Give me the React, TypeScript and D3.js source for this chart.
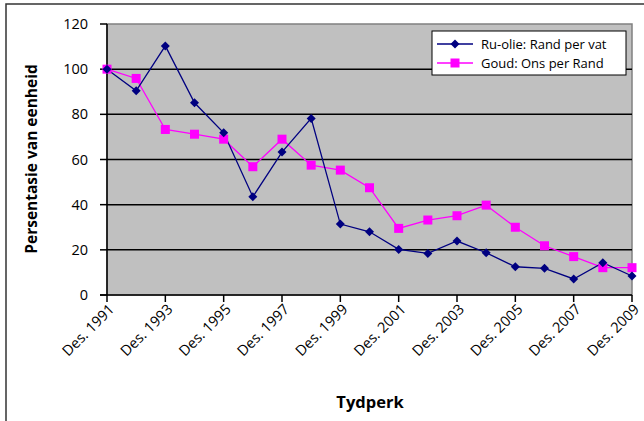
import React from "react";
import * as d3 from "d3";

const years = d3.range(1991, 2010);
const oilValues = [100, 90.4, 110.3, 85.1, 71.8, 43.5, 63.3, 78.2, 31.4, 28, 20.2, 18.4, 23.9, 18.7, 12.5, 11.8, 7.1, 14.3, 8.4];
const goldValues = [100, 95.9, 73.3, 71.2, 69, 56.8, 69, 57.5, 55.3, 47.5, 29.5, 33.2, 35.1, 39.8, 30, 21.8, 17, 12.1, 12.1];
const yTicks = [0, 20, 40, 60, 80, 100, 120];
const labelYears = [1991, 1993, 1995, 1997, 1999, 2001, 2003, 2005, 2007, 2009];
const seriesNames = ["Ru-olie: Rand per vat", "Goud: Ons per Rand"];

const W = 644, H = 421;
const left = 107, right = 632, top = 24, bottom = 295;
const FONT = "'Open Sans', 'Noto Sans', sans-serif";

export default function App() {
  const x = d3.scaleLinear().domain([1991, 2009]).range([left, right]);
  const y = d3.scaleLinear().domain([0, 120]).range([bottom, top]);
  const line = d3.line<number>().x((_, i) => x(years[i])).y((d) => y(d));

  const diamond = (cx: number, cy: number, r = 4.5) =>
    `M${cx},${cy - r}L${cx + r},${cy}L${cx},${cy + r}L${cx - r},${cy}Z`;

  const oilColor = "#000080";
  const goldColor = "#FF00FF";

  return (
    <svg width={W} height={H} style={{ position: "absolute", left: 0, top: 0 }}>
      <rect x={0} y={0} width={W} height={H} fill="#fff" />
      <rect x={6} y={4} width={W + 10} height={H + 10} fill="#fff" stroke="#333" strokeWidth={1.5} />
      {/* plot area */}
      <rect x={left} y={top} width={right - left} height={bottom - top} fill="#C0C0C0" stroke="#808080" strokeWidth={1.5} />
      {yTicks.filter((t) => t > 0 && t < 120).map((t) => (
        <line key={t} x1={left} x2={right} y1={y(t)} y2={y(t)} stroke="#000" strokeWidth={1.5} />
      ))}
      {/* axes */}
      <line x1={left} x2={left} y1={top} y2={bottom} stroke="#000" strokeWidth={1.5} />
      <line x1={left - 7} x2={right} y1={bottom} y2={bottom} stroke="#000" strokeWidth={1.5} />
      {yTicks.map((t) => (
        <g key={t}>
          <line x1={left - 7} x2={left} y1={y(t)} y2={y(t)} stroke="#000" strokeWidth={1.5} />
          <text x={88} y={y(t)} dy="0.35em" textAnchor="end" fontFamily={FONT} fontSize={14.5} fill="#000">{t}</text>
        </g>
      ))}
      {labelYears.map((yr) => (
        <g key={yr}>
          <line x1={x(yr)} x2={x(yr)} y1={bottom} y2={bottom + 7} stroke="#000" strokeWidth={1.5} />
          <text
            transform={`translate(${x(yr) + 1},${bottom + 8}) rotate(-45)`}
            textAnchor="end"
            dy="0.7em"
            fontFamily={FONT}
            fontSize={14.5}
            fill="#000"
          >
            {`Des. ${yr}`}
          </text>
        </g>
      ))}
      {/* series */}
      <path d={line(goldValues) || ""} fill="none" stroke={goldColor} strokeWidth={1.3} />
      <path d={line(oilValues) || ""} fill="none" stroke={oilColor} strokeWidth={1.3} />
      {goldValues.map((v, i) => (
        <rect key={i} x={x(years[i]) - 4.5} y={y(v) - 4.5} width={9} height={9} fill={goldColor} />
      ))}
      {oilValues.map((v, i) => (
        <path key={i} d={diamond(x(years[i]), y(v))} fill={oilColor} />
      ))}
      {/* legend */}
      <rect x={432} y={31} width={194} height={44} fill="#fff" stroke="#000" strokeWidth={1} />
      <line x1={437} x2={473} y1={44} y2={44} stroke={oilColor} strokeWidth={1.5} />
      <path d={diamond(455, 44)} fill={oilColor} />
      <text x={481} y={44} dy="0.35em" fontFamily={FONT} fontSize={13} fill="#000">{seriesNames[0]}</text>
      <line x1={437} x2={473} y1={63} y2={63} stroke={goldColor} strokeWidth={1.5} />
      <rect x={450.5} y={58.5} width={9} height={9} fill={goldColor} />
      <text x={481} y={63} dy="0.35em" fontFamily={FONT} fontSize={13} fill="#000">{seriesNames[1]}</text>
      {/* titles */}
      <text x={370} y={408} textAnchor="middle" fontFamily={FONT} fontWeight="bold" fontSize={16.5} fill="#000">Tydperk</text>
      <text transform={`translate(37,159) rotate(-90)`} textAnchor="middle" fontFamily={FONT} fontWeight="bold" fontSize={15.5} fill="#000">Persentasie van eenheid</text>
    </svg>
  );
}
